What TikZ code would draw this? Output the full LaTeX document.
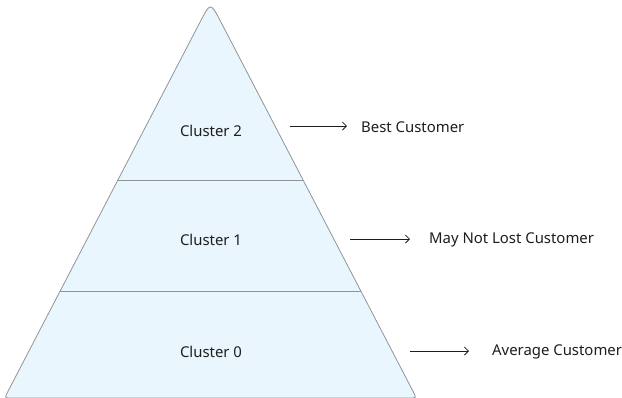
\documentclass[tikz,border=0pt]{standalone}
\usepackage{fontspec}
\setmainfont{Noto Sans}
\usetikzlibrary{calc,arrows.meta}
\definecolor{pyrfill}{HTML}{EAF6FE}
\definecolor{pyredge}{HTML}{8F9499}
\definecolor{ink}{HTML}{1E1E1E}
\begin{document}
\begin{tikzpicture}[x=1pt,y=-1pt,
  lbl/.style={font=\fontsize{14.9}{17}\selectfont, text=ink, inner sep=0pt},
  outcome/.style={lbl, anchor=west},
  pointer/.style={draw=ink, line width=0.8pt, -{Straight Barb[length=4pt,width=8pt]}},
  divider/.style={draw=pyredge, line width=0.8pt}]
  \useasboundingbox (0,0) rectangle (622,397);

  % pyramid corners
  \coordinate (A) at (210.5,2);
  \coordinate (BL) at (4.5,398);
  \coordinate (BR) at (416.5,398);
  % tangent points of the rounded corners
  \coordinate (Al) at ($(A)!0.05!(BL)$);
  \coordinate (Ar) at ($(A)!0.05!(BR)$);
  \coordinate (Lu) at ($(BL)!7pt!(A)$);
  \coordinate (Lr) at ($(BL)!7pt!(BR)$);
  \coordinate (Ru) at ($(BR)!7pt!(A)$);
  \coordinate (Rl) at ($(BR)!7pt!(BL)$);
  \filldraw[fill=pyrfill, draw=pyredge, line width=0.8pt]
    (Lu) -- (Al) .. controls (A) .. (Ar) -- (Ru) .. controls (BR) .. (Rl)
    -- (Lr) .. controls (BL) .. (Lu) -- cycle;

  % tier dividers
  \draw[divider] ($(A)!0.4495!(BL)$) -- ($(A)!0.4495!(BR)$);
  \draw[divider] ($(A)!0.7298!(BL)$) -- ($(A)!0.7298!(BR)$);

  % tier names
  \node[lbl] (c2) at (211,131) {Cluster 2};
  \node[lbl] (c1) at (211,240) {Cluster 1};
  \node[lbl] (c0) at (211,352) {Cluster 0};

  % customer segments
  \node[outcome] (best) at (361,127) {Best Customer};
  \node[outcome] (may) at (429,240) {May Not Lost Customer};
  \node[outcome] (avg) at (492,352) {Average Customer};

  % pointers from each tier to its segment
  \coordinate (t2) at (290,126);
  \coordinate (t1) at (350,239);
  \coordinate (t0) at (410,351);
  \draw[pointer] (t2) -- ($(t2)+(57,0)$);
  \draw[pointer] (t1) -- ($(t1)+(60,0)$);
  \draw[pointer] (t0) -- ($(t0)+(59,0)$);
\end{tikzpicture}
\end{document}
